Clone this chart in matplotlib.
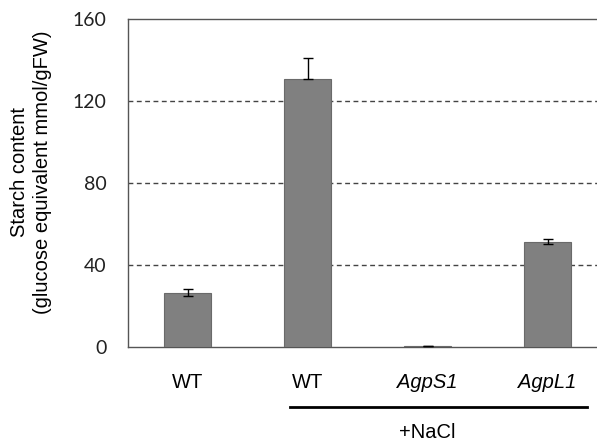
import matplotlib
matplotlib.use("Agg")
import matplotlib.pyplot as plt
from matplotlib.lines import Line2D

categories = ["WT", "WT", "AgpS1", "AgpL1"]
italic = [False, False, True, True]
values = [26.5, 130.6, 0.5, 51.4]
err_low = [1.8, 0.0, 0.2, 1.1]
err_high = [1.8, 10.2, 0.2, 1.1]
yticks = [0, 40, 80, 120, 160]
treatment_label = "+NaCl"

W, H = 597, 441
fig = plt.figure(figsize=(W / 100, H / 100), dpi=100)
fig.patch.set_facecolor("white")

# axes extends slightly beyond right edge of figure (cropped like reference)
left, right = 127.5 / W, 607.5 / W
bottom, top = (H - 347) / H, (H - 19) / H
ax = fig.add_axes([left, bottom, right - left, top - bottom])

x = list(range(len(categories)))
ax.bar(x, values, width=0.39, color="#808080", edgecolor="#6a6a6a",
       linewidth=0.8, zorder=3)
ax.errorbar(x, values, yerr=[err_low, err_high], fmt="none", ecolor="black",
            elinewidth=1.0, capsize=3.5, capthick=1.0, zorder=4)

ax.set_xlim(-0.5, 3.5)
ax.set_ylim(0, 160)
ax.set_yticks(yticks)
ax.set_yticklabels([str(v) for v in yticks], family="Lato", fontsize=14,
                   color="#222222")
ax.tick_params(axis="y", length=0, pad=15)

ax.set_xticks(x)
ax.set_xticklabels(categories, family="Liberation Sans", fontsize=14.5)
for lab, it in zip(ax.get_xticklabels(), italic):
    if it:
        lab.set_style("italic")
ax.tick_params(axis="x", length=0, pad=19)

for y in yticks[1:-1]:
    ax.axhline(y, color="#444444", linewidth=1.0, linestyle=(0, (3.5, 2.5)),
               zorder=1)

for s in ["left", "bottom", "top", "right"]:
    ax.spines[s].set_color("#555555")
    ax.spines[s].set_linewidth(1.0)

# y label (two lines)
fig.text(31 / W, 1 - 172 / H,
         "Starch content\n(glucose equivalent mmol/gFW)",
         rotation=90, ha="center", va="center", family="Liberation Sans",
         fontsize=14.5, linespacing=1.3)

# treatment bracket
trans = ax.get_xaxis_transform()
line_y = -(407 - 347) / (347 - 19)
ax.add_line(Line2D([x[1] - 0.15, x[3] + 0.33], [line_y, line_y],
                   transform=trans, color="black", linewidth=2.0,
                   clip_on=False))
ax.text(x[2], -(432 - 347) / (347 - 19), treatment_label, transform=trans,
        ha="center", va="center", family="Liberation Sans", fontsize=14.5,
        clip_on=False)

fig.savefig("out.png", dpi=100)
